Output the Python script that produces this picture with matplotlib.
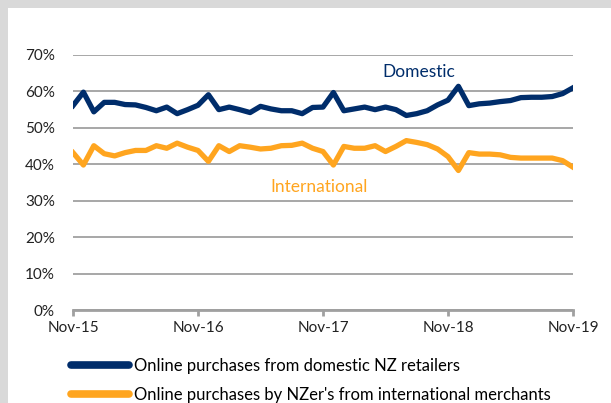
import numpy as np
import matplotlib
matplotlib.use("Agg")
import matplotlib.pyplot as plt
from matplotlib.patches import Rectangle
from matplotlib.ticker import PercentFormatter

# monthly shares, Nov-15 to Nov-19 (percent)
domestic = [56.1, 59.8, 54.4, 57.0, 57.0, 56.4, 56.3, 55.6, 54.7, 55.7, 53.9, 55.0,
            56.2, 59.1, 55.0, 55.7, 55.0, 54.2, 55.9, 55.2, 54.7, 54.7, 53.9, 55.6,
            55.7, 59.7, 54.7, 55.2, 55.7, 55.0, 55.7, 55.0, 53.4, 53.9, 54.7, 56.3,
            57.6, 61.4, 56.1, 56.6, 56.8, 57.2, 57.5, 58.3, 58.4, 58.4, 58.6, 59.4,
            61.0]
international = [43.2, 39.8, 45.1, 42.9, 42.3, 43.2, 43.8, 43.8, 45.1, 44.4, 45.8, 44.7,
                 43.8, 40.8, 45.1, 43.5, 45.1, 44.7, 44.2, 44.4, 45.1, 45.2, 45.8, 44.4,
                 43.5, 39.8, 44.9, 44.4, 44.4, 45.1, 43.5, 44.9, 46.5, 46.0, 45.4, 44.2,
                 42.1, 38.3, 43.2, 42.8, 42.8, 42.6, 41.9, 41.7, 41.7, 41.7, 41.7, 41.0,
                 39.2]
tick_labels = ["Nov-15", "Nov-16", "Nov-17", "Nov-18", "Nov-19"]
legend_labels = ["Online purchases from domestic NZ retailers",
                 "Online purchases by NZer's from international merchants"]

navy = "#002d6b"
orange = "#ffa51f"
grid_col = "#a0a0a0"

plt.rcParams['font.family'] = ['Lato', 'DejaVu Sans']

fig = plt.figure(figsize=(6.11, 4.03), dpi=100)
fig.patch.set_facecolor("#d9d9d9")
# white chart area with grey strip on top and left
fig.patches.append(Rectangle((8 / 611, 0), 1, (403 - 8) / 403, transform=fig.transFigure,
                             facecolor="white", edgecolor="none", zorder=-10))

ax = fig.add_axes([73 / 611, (403 - 310) / 403, 500 / 611, 255 / 403])
ax.set_facecolor("none")
ax.set_zorder(2)

x = np.arange(len(domestic))
l1, = ax.plot(x, np.array(domestic) / 100, color=navy, lw=3.8, zorder=3)
l2, = ax.plot(x, np.array(international) / 100, color=orange, lw=3.8, zorder=3)

ax.set_xlim(0, len(domestic) - 1)
ax.set_ylim(0, 0.7)
ax.set_yticks(np.arange(0, 0.71, 0.1))
ax.yaxis.set_major_formatter(PercentFormatter(1.0, decimals=0))
ax.grid(axis="y", color=grid_col, lw=1.3)
ax.set_axisbelow(True)

ax.set_xticks(np.arange(0, len(domestic), 12))
ax.set_xticklabels(tick_labels)

for s in ["top", "right", "left"]:
    ax.spines[s].set_visible(False)
ax.spines["bottom"].set_color(grid_col)
ax.spines["bottom"].set_linewidth(2)
ax.tick_params(axis="y", length=0, pad=13, labelsize=11, colors="#222222")
ax.tick_params(axis="x", length=4, width=2, color=grid_col, pad=4, labelsize=11, colors="#222222")

# series labels
ax.text(33.2, 0.652, "Domestic", fontsize=12.5, color=navy, ha="center", va="center")
ax.text(23.6, 0.338, "International", fontsize=12.5, color=orange, ha="center", va="center")

fig.legend([l1, l2], legend_labels, loc="upper left", bbox_to_anchor=(64 / 611, 1 - 351 / 403),
           frameon=False, fontsize=12, handlelength=3.5, handletextpad=0.3, labelspacing=0.78,
           borderaxespad=0)
for h in fig.legends[0].legend_handles:
    h.set_linewidth(5.5)
    h.set_solid_capstyle("round")

fig.savefig("out.png", dpi=100, facecolor=fig.get_facecolor())
